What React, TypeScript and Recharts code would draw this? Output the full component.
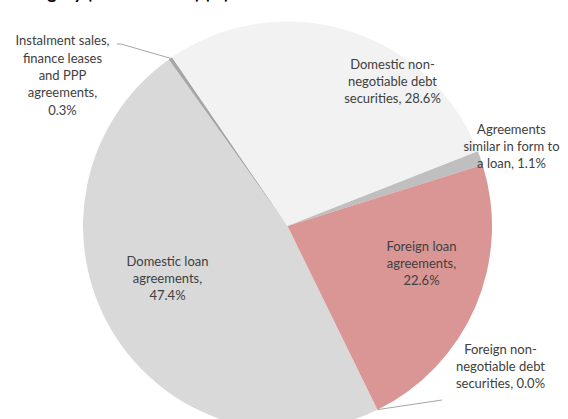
import React from 'react';
import { PieChart, Pie, Cell } from 'recharts';

const categories = [
  'Domestic loan agreements',
  'Instalment sales, finance leases and PPP agreements',
  'Domestic non-negotiable debt securities',
  'Agreements similar in form to a loan',
  'Foreign loan agreements',
  'Foreign non-negotiable debt securities',
];
const shares = [47.4, 0.3, 28.6, 1.1, 22.6, 0.0];
const colors = ['#d9d9d9', '#a6a6a6', '#f2f2f2', '#bfbfbf', '#da9694', '#95b3d7'];

// how each label wraps; {v} is replaced with the share
const labelLines = [
  ['Domestic loan', 'agreements,', '{v}'],
  ['Instalment sales,', 'finance leases', 'and PPP', 'agreements,', '{v}'],
  ['Domestic non-', 'negotiable debt', 'securities, {v}'],
  ['Agreements', 'similar in form to', 'a loan, {v}'],
  ['Foreign loan', 'agreements,', '{v}'],
  ['Foreign non-', 'negotiable debt', 'securities, {v}'],
];

const data = categories.map((name, i) => ({ name, value: shares[i] }));

// label block centre relative to pie centre, and optional leader line end points
const labelPos = [
  { dx: -120, dy: 52 },
  { dx: -225, dy: -151, leader: [[-166.5, -182], [-170.5, -182]] },
  { dx: 105, dy: -145 },
  { dx: 224, dy: -80 },
  { dx: 134, dy: 37 },
  { dx: 213, dy: 140, leader: [[154.5, 174]] },
];

const RAD = Math.PI / 180;
const LINE_H = 17.4;

const renderLabel = (props: any) => {
  const { cx, cy, midAngle, outerRadius, index, value } = props;
  const pos = labelPos[index];
  const lines = labelLines[index].map((l) => l.replace('{v}', `${Number(value).toFixed(1)}%`));
  const x = cx + pos.dx;
  const y0 = cy + pos.dy - ((lines.length - 1) * LINE_H) / 2;
  let leader = null;
  if (pos.leader) {
    const sx = cx + outerRadius * Math.cos(-midAngle * RAD);
    const sy = cy + outerRadius * Math.sin(-midAngle * RAD);
    const pts = [[sx, sy], ...pos.leader.map(([a, b]) => [cx + a, cy + b])];
    leader = (
      <polyline points={pts.map((p) => p.join(',')).join(' ')} fill="none" stroke="#a6a6a6" strokeWidth={1} />
    );
  }
  return (
    <g key={`lbl-${index}`}>
      {leader}
      <text x={x} y={y0} textAnchor="middle" fill="#404040" fontSize={13} fontFamily="Lato, 'Open Sans', sans-serif">
        {lines.map((l, i) => (
          <tspan key={i} x={x} y={y0 + i * LINE_H} dominantBaseline="central">
            {l}
          </tspan>
        ))}
      </text>
    </g>
  );
};

const App: React.FC = () => {
  return (
    <div style={{ position: 'absolute', left: 0, top: 0, width: 568, height: 419, overflow: 'hidden', background: '#fff' }}>
      <div
        style={{
          position: 'absolute',
          left: 10,
          top: -17,
          fontFamily: 'Lato, sans-serif',
          fontWeight: 700,
          fontSize: 18,
          lineHeight: '18px',
          color: '#000',
          whiteSpace: 'nowrap',
        }}
      >
        Category (31 Dec 2023) (%)
      </div>
      <PieChart width={568} height={419} margin={{ top: 0, right: 0, bottom: 0, left: 0 }}>
        <Pie
          data={data}
          dataKey="value"
          nameKey="name"
          cx={287.5}
          cy={226}
          outerRadius={204.5}
          startAngle={-63.9}
          endAngle={-423.9}
          stroke="none"
          label={renderLabel}
          labelLine={false}
          isAnimationActive={false}
        >
          {data.map((d, i) => (
            <Cell key={d.name} fill={colors[i]} />
          ))}
        </Pie>
      </PieChart>
    </div>
  );
};

export default App;
